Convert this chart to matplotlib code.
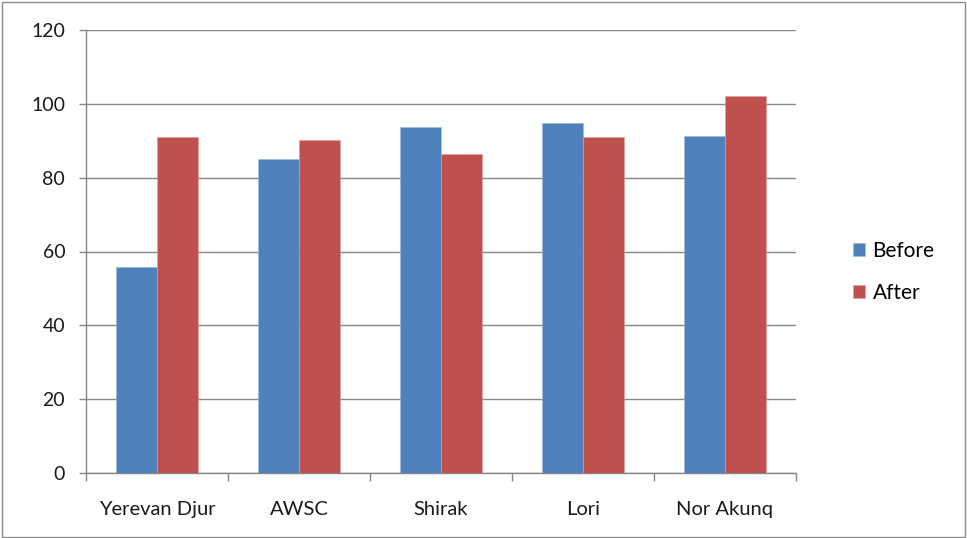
import matplotlib
matplotlib.use("Agg")
import matplotlib.pyplot as plt
import numpy as np
from matplotlib.patches import Rectangle

categories = ["Yerevan Djur", "AWSC", "Shirak", "Lori", "Nor Akunq"]
before = [55.7, 85.1, 93.7, 94.8, 91.2]
after = [91.0, 90.3, 86.3, 91.0, 102.2]
y_ticks = [0, 20, 40, 60, 80, 100, 120]

plt.rcParams["font.family"] = ["Lato", "DejaVu Sans"]

fig = plt.figure(figsize=(9.67, 5.38), dpi=100)
ax = fig.add_axes([86 / 967, 1 - 473 / 538, 710 / 967, 443 / 538])

x = np.arange(len(categories))
w = 1 / 3.5
ax.bar(x - w / 2, before, width=w, color="#4F81BD", edgecolor="#9DB7DA",
       linewidth=0.4, label="Before", zorder=3)
ax.bar(x + w / 2, after, width=w, color="#C0504D", edgecolor="#DDA09E",
       linewidth=0.4, label="After", zorder=3)

ax.set_xlim(-0.5, len(categories) - 0.5)
ax.set_ylim(0, 120)
ax.set_yticks(y_ticks)
ax.yaxis.grid(True, color="#878787", linewidth=1, zorder=0)

ax.set_xticks(x)
ax.set_xticklabels(categories)
ax.set_xticks(np.arange(len(categories) + 1) - 0.5, minor=True)
ax.tick_params(axis="x", which="major", length=0, pad=20, labelsize=14.5,
               labelcolor="#1a1a1a")
ax.tick_params(axis="x", which="minor", length=6, color="#868686", width=1)
ax.tick_params(axis="y", length=5, color="#868686", width=1, pad=10,
               labelsize=14, labelcolor="#1a1a1a")

for side in ["top", "right"]:
    ax.spines[side].set_visible(False)
for side in ["left", "bottom"]:
    ax.spines[side].set_color("#868686")
    ax.spines[side].set_linewidth(1)

leg = fig.legend(loc="center left", bbox_to_anchor=(834 / 967, 1 - 272 / 538),
                 frameon=False, fontsize=15, handlelength=0.6,
                 handleheight=0.6, handletextpad=0.35, labelspacing=1.05)

fig.patches.append(Rectangle((2 / 967, 1 / 538), 963 / 967, 535 / 538,
                             transform=fig.transFigure, fill=False,
                             edgecolor="#8C8C8C", linewidth=1))

fig.savefig("out.png", dpi=100)
